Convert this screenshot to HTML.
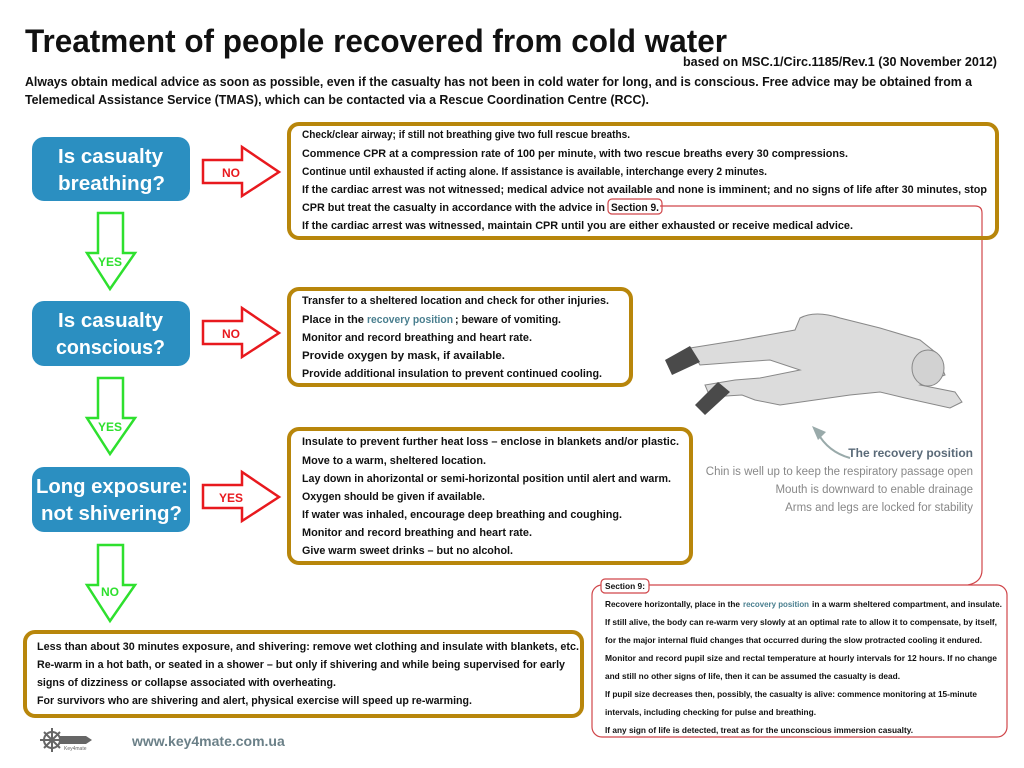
<!DOCTYPE html>
<html><head><meta charset="utf-8"><style>
html,body{margin:0;padding:0;background:#fff;}
svg{display:block;}
.t{font-family:"Liberation Sans Narrow","Liberation Sans",sans-serif;font-weight:bold;fill:#111;}
.b{font-size:11px;}
.s{font-size:8.5px;}
.g{font-family:"Liberation Sans Narrow","Liberation Sans",sans-serif;fill:#888;font-size:11.5px;}
.q{font-family:"Liberation Sans",sans-serif;font-weight:bold;fill:#fff;font-size:20px;}
</style></head><body>
<svg width="1024" height="768" viewBox="0 0 1024 768" xmlns="http://www.w3.org/2000/svg">
<text class="t" x="25" y="52" font-size="32" textLength="702" lengthAdjust="spacingAndGlyphs">Treatment of people recovered from cold water</text>
<text class="t" x="683" y="66" font-size="13" font-weight="normal" textLength="314" lengthAdjust="spacingAndGlyphs">based on MSC.1/Circ.1185/Rev.1 (30 November 2012)</text>
<text class="t" x="25" y="86" font-size="13" textLength="947" lengthAdjust="spacingAndGlyphs">Always obtain medical advice as soon as possible, even if the casualty has not been in cold water for long, and is conscious. Free advice may be obtained from a</text>
<text class="t" x="25" y="104" font-size="13" textLength="624" lengthAdjust="spacingAndGlyphs">Telemedical Assistance Service (TMAS), which can be contacted via a Rescue Coordination Centre (RCC).</text>

<!-- blue boxes -->
<rect x="32" y="137" width="158" height="64" rx="12" fill="#2b8fc1"/>
<text class="q" x="58" y="163" textLength="105" lengthAdjust="spacingAndGlyphs">Is casualty</text>
<text class="q" x="58" y="190" textLength="107" lengthAdjust="spacingAndGlyphs">breathing?</text>
<rect x="32" y="301" width="158" height="65" rx="12" fill="#2b8fc1"/>
<text class="q" x="58" y="327" textLength="105" lengthAdjust="spacingAndGlyphs">Is casualty</text>
<text class="q" x="56" y="354" textLength="109" lengthAdjust="spacingAndGlyphs">conscious?</text>
<rect x="32" y="467" width="158" height="65" rx="12" fill="#2b8fc1"/>
<text class="q" x="36" y="493" textLength="152" lengthAdjust="spacingAndGlyphs">Long exposure:</text>
<text class="q" x="41" y="520" textLength="141" lengthAdjust="spacingAndGlyphs">not shivering?</text>

<!-- red arrows -->
<g fill="#fff" stroke="#e8191e" stroke-width="2.5">
<path d="M203 160H242V147L279 172L242 196V183H203Z"/>
<path d="M203 321H242V308L279 333L242 357V344H203Z"/>
<path d="M203 485H242V472L279 497L242 521V508H203Z"/>
</g>
<g font-family="Liberation Sans,sans-serif" font-weight="bold" font-size="12" fill="#e8191e" text-anchor="middle">
<text x="231" y="177">NO</text><text x="231" y="338">NO</text><text x="231" y="502">YES</text>
</g>
<!-- green arrows -->
<g fill="#fff" stroke="#2ee02e" stroke-width="2.5">
<path d="M98 213H123V253H135L110 289L87 253H98Z"/>
<path d="M98 378H123V418H135L110 454L87 418H98Z"/>
<path d="M98 545H123V585H135L110 621L87 585H98Z"/>
</g>
<g font-family="Liberation Sans,sans-serif" font-weight="bold" font-size="12" fill="#2ee02e" text-anchor="middle">
<text x="110" y="266">YES</text><text x="110" y="431">YES</text><text x="110" y="596">NO</text>
</g>

<!-- connector -->
<path d="M660 206H975Q982 206 982 213V570Q982 582 968 585" fill="none" stroke="#d0464a" stroke-width="1.2"/>

<!-- box1 -->
<rect x="289" y="124" width="708" height="114" rx="10" fill="none" stroke="#b8860b" stroke-width="4"/>
<g class="t b">
<text x="302" y="138" textLength="328" lengthAdjust="spacingAndGlyphs">Check/clear airway; if still not breathing give two full rescue breaths.</text>
<text x="302" y="157" textLength="546" lengthAdjust="spacingAndGlyphs">Commence CPR at a compression rate of 100 per minute, with two rescue breaths every 30 compressions.</text>
<text x="302" y="175" textLength="465" lengthAdjust="spacingAndGlyphs">Continue until exhausted if acting alone. If assistance is available, interchange every 2 minutes.</text>
<text x="302" y="193" textLength="685" lengthAdjust="spacingAndGlyphs">If the cardiac arrest was not witnessed; medical advice not available and none is imminent; and no signs of life after 30 minutes, stop</text>
<text x="302" y="211" textLength="303" lengthAdjust="spacingAndGlyphs">CPR but treat the casualty in accordance with the advice in</text>
<text x="611" y="211" textLength="48" lengthAdjust="spacingAndGlyphs">Section 9.</text>
<text x="302" y="229" textLength="551" lengthAdjust="spacingAndGlyphs">If the cardiac arrest was witnessed, maintain CPR until you are either exhausted or receive medical advice.</text>
</g>
<rect x="608" y="199" width="54" height="15" rx="4" fill="none" stroke="#d0464a" stroke-width="1.2"/>

<!-- box2 -->
<rect x="289" y="289" width="342" height="96" rx="10" fill="none" stroke="#b8860b" stroke-width="4"/>
<g class="t b">
<text x="302" y="304" textLength="307" lengthAdjust="spacingAndGlyphs">Transfer to a sheltered location and check for other injuries.</text>
<text x="302" y="323" textLength="62" lengthAdjust="spacingAndGlyphs">Place in the</text>
<text x="367" y="323" textLength="86" lengthAdjust="spacingAndGlyphs" fill="#4a7f8f">recovery position</text>
<text x="455" y="323" textLength="106" lengthAdjust="spacingAndGlyphs">; beware of vomiting.</text>
<text x="302" y="341" textLength="230" lengthAdjust="spacingAndGlyphs">Monitor and record breathing and heart rate.</text>
<text x="302" y="359" textLength="203" lengthAdjust="spacingAndGlyphs">Provide oxygen by mask, if available.</text>
<text x="302" y="377" textLength="300" lengthAdjust="spacingAndGlyphs">Provide additional insulation to prevent continued cooling.</text>
</g>

<!-- box3 -->
<rect x="289" y="429" width="402" height="134" rx="10" fill="none" stroke="#b8860b" stroke-width="4"/>
<g class="t b">
<text x="302" y="445" textLength="377" lengthAdjust="spacingAndGlyphs">Insulate to prevent further heat loss – enclose in blankets and/or plastic.</text>
<text x="302" y="464" textLength="184" lengthAdjust="spacingAndGlyphs">Move to a warm, sheltered location.</text>
<text x="302" y="482" textLength="369" lengthAdjust="spacingAndGlyphs">Lay down in ahorizontal or semi-horizontal position until alert and warm.</text>
<text x="302" y="500" textLength="183" lengthAdjust="spacingAndGlyphs">Oxygen should be given if available.</text>
<text x="302" y="518" textLength="320" lengthAdjust="spacingAndGlyphs">If water was inhaled, encourage deep breathing and coughing.</text>
<text x="302" y="536" textLength="230" lengthAdjust="spacingAndGlyphs">Monitor and record breathing and heart rate.</text>
<text x="302" y="554" textLength="211" lengthAdjust="spacingAndGlyphs">Give warm sweet drinks – but no alcohol.</text>
</g>

<!-- box4 -->
<rect x="25" y="632" width="557" height="84" rx="10" fill="none" stroke="#b8860b" stroke-width="4"/>
<g class="t b">
<text x="37" y="650" textLength="542" lengthAdjust="spacingAndGlyphs">Less than about 30 minutes exposure, and shivering: remove wet clothing and insulate with blankets, etc.</text>
<text x="37" y="668" textLength="528" lengthAdjust="spacingAndGlyphs">Re-warm in a hot bath, or seated in a shower – but only if shivering and while being supervised for early</text>
<text x="37" y="686" textLength="299" lengthAdjust="spacingAndGlyphs">signs of dizziness or collapse associated with overheating.</text>
<text x="37" y="704" textLength="435" lengthAdjust="spacingAndGlyphs">For survivors who are shivering and alert, physical exercise will speed up re-warming.</text>
</g>

<!-- section 9 -->
<rect x="592" y="585" width="415" height="152" rx="10" fill="#fff" stroke="#d0464a" stroke-width="1.2"/>
<rect x="601" y="579" width="48" height="14" rx="4" fill="#fff" stroke="#d0464a" stroke-width="1.2"/>
<g class="t s">
<text x="605" y="589" textLength="40" lengthAdjust="spacingAndGlyphs">Section 9:</text>
<text x="605" y="607" textLength="135" lengthAdjust="spacingAndGlyphs">Recovere horizontally, place in the</text>
<text x="743" y="607" textLength="66" lengthAdjust="spacingAndGlyphs" fill="#4a7f8f">recovery position</text>
<text x="812" y="607" textLength="190" lengthAdjust="spacingAndGlyphs">in a warm sheltered compartment, and insulate.</text>
<text x="605" y="625" textLength="392" lengthAdjust="spacingAndGlyphs">If still alive, the body can re-warm very slowly at an optimal rate to allow it to compensate, by itself,</text>
<text x="605" y="643" textLength="377" lengthAdjust="spacingAndGlyphs">for the major internal fluid changes that occurred during the slow protracted cooling it endured.</text>
<text x="605" y="661" textLength="392" lengthAdjust="spacingAndGlyphs">Monitor and record pupil size and rectal temperature at hourly intervals for 12 hours. If no change</text>
<text x="605" y="679" textLength="295" lengthAdjust="spacingAndGlyphs">and still no other signs of life, then it can be assumed the casualty is dead.</text>
<text x="605" y="697" textLength="372" lengthAdjust="spacingAndGlyphs">If pupil size decreases then, possibly, the casualty is alive: commence monitoring at 15-minute</text>
<text x="605" y="715" textLength="211" lengthAdjust="spacingAndGlyphs">intervals, including checking for pulse and breathing.</text>
<text x="605" y="733" textLength="308" lengthAdjust="spacingAndGlyphs">If any sign of life is detected, treat as for the unconscious immersion casualty.</text>
</g>

<!-- recovery figure -->
<g stroke="#888" stroke-width="1" fill="#dcdcdc">
<path d="M690 348L740 340L795 330L800 318Q815 310 840 318L880 328L920 340L935 352L945 375L920 385L955 392L962 402L950 408L905 398L880 392L850 395L815 400L780 405L755 400L742 395L710 397L705 385L735 380L760 378L800 370L770 360L740 362L700 365Z"/>
<ellipse cx="928" cy="368" rx="16" ry="18" fill="#d2d2d2"/>
</g>
<path d="M665 360L690 346L700 362L672 375Z M695 405L718 382L730 392L705 415Z" fill="#4a4a4a"/>
<path d="M817 432Q828 452 850 458" fill="none" stroke="#9aa" stroke-width="2"/>
<path d="M812 426L818 440L826 432Z" fill="#9aa"/>
<text x="973" y="457" font-family="Liberation Sans,sans-serif" font-weight="bold" font-size="12" text-anchor="end" fill="#5a6a78">The recovery position</text>
<text class="g" x="973" y="475" text-anchor="end">Chin is well up to keep the respiratory passage open</text>
<text class="g" x="973" y="493" text-anchor="end">Mouth is downward to enable drainage</text>
<text class="g" x="973" y="511" text-anchor="end">Arms and legs are locked for stability</text>

<!-- logo -->
<g stroke="#666" stroke-width="2" fill="none">
<circle cx="52" cy="740" r="8"/>
<path d="M52 728V752M40 740H64M44 732L60 748M60 732L44 748"/>
</g>
<path d="M60 736H86L92 740L86 744H60Z" fill="#666"/>
<text x="64" y="750" font-family="Liberation Sans,sans-serif" font-size="5" fill="#666">Key4mate</text>
<text x="132" y="746" font-family="Liberation Sans,sans-serif" font-weight="bold" font-size="14" fill="#6b8088">www.key4mate.com.ua</text>
</svg>
</body></html>
